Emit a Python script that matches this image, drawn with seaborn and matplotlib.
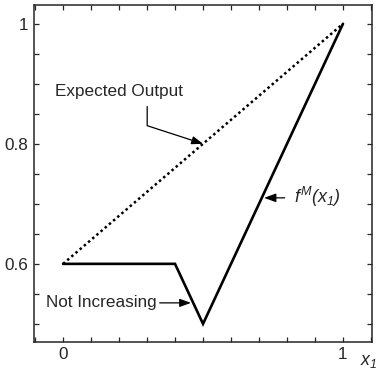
import numpy as np
import pandas as pd
import seaborn as sns
import matplotlib.pyplot as plt
from matplotlib.ticker import FixedLocator, MultipleLocator, FuncFormatter

# chart data
model_x = [0.0, 0.4, 0.5, 1.0]
model_y = [0.6, 0.6, 0.5, 1.0]
expected_x = [0.0, 1.0]
expected_y = [0.6, 1.0]

sns.set_style("ticks")
plt.rcParams['font.family'] = ['Liberation Sans', 'DejaVu Sans']
plt.rcParams['mathtext.fontset'] = 'custom'
plt.rcParams['mathtext.it'] = 'Liberation Sans:italic'
plt.rcParams['mathtext.rm'] = 'Liberation Sans:italic'  # italic parens/digits in math labels

fig = plt.figure(figsize=(3.77, 3.70), dpi=100)
ax = fig.add_axes([0.090, 0.076, 0.897, 0.910])

sns.lineplot(x=expected_x, y=expected_y, ax=ax, color='black', lw=1.8,
             linestyle=(0, (1, 1.2)), sort=False)
sns.lineplot(x=model_x, y=model_y, ax=ax, color='black', lw=1.9, sort=False)
for ln in ax.lines:
    ln.set_solid_joinstyle('miter')

ax.set_xlim(-0.104, 1.104)
ax.set_ylim(0.47, 1.031)

ax.xaxis.set_major_locator(FixedLocator([0, 1]))
ax.xaxis.set_minor_locator(MultipleLocator(0.1))
ax.yaxis.set_major_locator(FixedLocator([0.6, 0.8, 1.0]))
ax.yaxis.set_minor_locator(MultipleLocator(0.05))
ax.yaxis.set_major_formatter(FuncFormatter(lambda v, p: f"{v:g}"))
ax.xaxis.set_major_formatter(FuncFormatter(lambda v, p: f"{v:g}"))
ax.tick_params(which='both', direction='in', top=True, right=True,
               length=3.5, width=0.9, labelsize=12.3, pad=4)
for s in ax.spines.values():
    s.set_linewidth(1.1)

arrow = dict(arrowstyle='-|>,head_length=0.55,head_width=0.2', color='black',
             lw=0.9, shrinkA=0, shrinkB=0)

ax.annotate('Expected Output', xy=(0.5, 0.8), xytext=(0.2, 0.887),
            ha='center', va='center', fontsize=12.3,
            arrowprops=dict(arrow, connectionstyle='angle,angleA=-90,angleB=162,rad=0',
                            relpos=(0.72, 0.0), shrinkA=3))
ax.annotate('Not Increasing', xy=(0.457, 0.535), xytext=(0.136, 0.535),
            ha='center', va='center', fontsize=12.3, arrowprops=arrow)
ax.annotate(r'$f^{M}(x_{1})$', xy=(0.718, 0.71), xytext=(0.99, 0.712),
            ha='right', va='center', fontsize=13,
            arrowprops=dict(arrow, relpos=(0.0, 0.45), shrinkA=4))

ax.text(1.06, 0.437, r'$x_{1}$', ha='left', va='center', fontsize=12.8,
        clip_on=False)

fig.savefig('out.png', dpi=100)
